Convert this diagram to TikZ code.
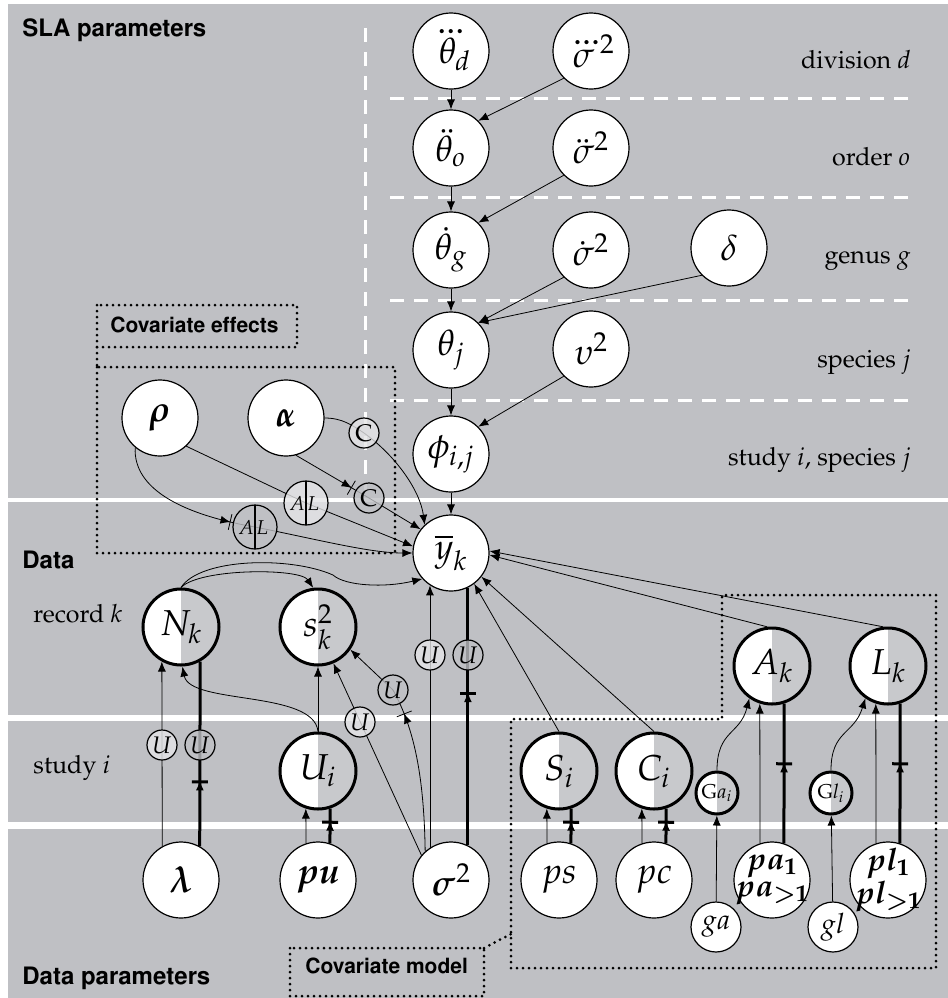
\documentclass[tikz,border=0pt]{standalone}
\usepackage[T1]{fontenc}
\usepackage{amsmath}
\usepackage{mathpazo}
\usepackage{helvet}
\usepackage{bm}
\usetikzlibrary{arrows.meta,decorations.markings}

\definecolor{bggray}{RGB}{191,192,196}
\definecolor{halfgray}{RGB}{200,201,204}
\definecolor{markgray}{RGB}{229,229,231}
\pgfdeclarelayer{back}
\pgfdeclarelayer{edges}
\pgfsetlayers{back,edges,main}
\newcommand{\bandfont}{\sffamily\bfseries\fontsize{12}{13}\selectfont}
\newcommand{\boxfont}{\sffamily\bfseries\fontsize{10.5}{12}\selectfont}
\newcommand{\rowfont}{\fontsize{12.5}{14}\selectfont}

\begin{document}
\begin{tikzpicture}[x=0.5pt,y=-0.5pt,line width=0.6pt,
main node/.style={circle,draw,fill=white,minimum size=38pt,inner sep=0pt,line width=0.6pt,font=\fontsize{18}{14}\selectfont},
half node/.style={main node,line width=1.5pt,path picture={\fill[halfgray] (path picture bounding box.north) rectangle (path picture bounding box.south east);}},
two line/.style={main node,align=center,inner sep=-9pt,font=\fontsize{15.5}{13.5}\selectfont},
small node/.style={main node,minimum size=25pt,font=\fontsize{14}{14}\selectfont},
mark node/.style={circle,draw,line width=0.6pt,minimum size=15pt,inner sep=0pt,fill opacity=0.8,text opacity=1,font=\fontsize{12}{12}\selectfont},
lt/.style={mark node,fill=markgray},
dk/.style={mark node,fill=bggray},
split/.style={minimum size=22pt,font=\fontsize{10}{10}\selectfont,path picture={\draw[line width=1pt] (path picture bounding box.north) -- (path picture bounding box.south);}},
row label/.style={anchor=base east,inner sep=0pt,font=\rowfont},
band label/.style={anchor=base west,inner sep=0pt,font=\bandfont},
arr/.style={-{Latex[length=5pt,width=4pt]}},
thk/.style={line width=1.5pt},
barmark/.style={postaction={decorate},decoration={markings,mark=at position #1 with {\arrow{Latex[length=5pt,width=4pt]}\arrow{Bar[width=8pt]}}}},
dotbox/.style={line width=1.5pt,dash pattern=on 0pt off 3pt,line cap=round},
wdash/.style={white,line width=1.5pt,dash pattern=on 7pt off 5pt}]
\useasboundingbox (0,0) rectangle (948,998);

\begin{pgfonlayer}{back}
\fill[bggray] (8,4) rectangle (948,998);
\draw[white,line width=2.3pt] (8,500) -- (948,500);
\draw[white,line width=3.4pt] (8,718) -- (948,718);
\draw[white,line width=3.8pt] (8,825.5) -- (948,825.5);
\draw[wdash] (365,28) -- (365,492);
\foreach \y in {98,197,300,400}
  \draw[wdash] (390,\y) -- (911,\y);
\draw[dotbox] (97,305) rectangle (297,347);
\draw[dotbox] (97,347) -- (97,367);
\draw[dotbox] (97,367) rectangle (395,553);
\draw[dotbox] (290,948) rectangle (484,996);
\draw[dotbox] (484,948) -- (511,934);
\draw[dotbox] (511,968) -- (511,719) -- (722,719) -- (722,595) -- (936,595) -- (936,968) -- cycle;
\end{pgfonlayer}

\begin{scope}
\node[band label] (sla) at (22,36) {SLA parameters};
\node[band label] (dat) at (22,568) {Data};
\node[band label] (dpar) at (22,984) {Data parameters};
\node[anchor=base west,inner sep=0pt,font=\boxfont] (cfx) at (110,332) {Covariate effects};
\node[anchor=base west,inner sep=0pt,font=\boxfont] (cmod) at (305,973) {Covariate model};
\node[row label] (ldiv) at (911,68) {division $d$};
\node[row label] (lord) at (911,165) {order $o$};
\node[row label] (lgen) at (911,263) {genus $g$};
\node[row label] (lspc) at (911,367) {species $j$};
\node[row label] (lstd) at (911,465) {study $i$, species $j$};
\node[anchor=base west,inner sep=0pt,font=\rowfont] (lrec) at (33,622) {record $k$};
\node[anchor=base west,inner sep=0pt,font=\rowfont] (lsti) at (33,773) {study $i$};
\end{scope}

\begin{scope}
\node[main node] (thd) at (451,51) {$\dddot{\theta}_{\!\!d}$};
\node[main node] (sgd) at (591,51) {$\dddot{\sigma}^2$};
\node[main node] (tho) at (451,148) {$\ddot{\theta}_o$};
\node[main node] (sgo) at (591,148) {$\ddot{\sigma}^2$};
\node[main node] (thg) at (451,250) {$\dot{\theta}_g$};
\node[main node] (sgg) at (591,250) {$\dot{\sigma}^2$};
\node[main node] (dlt) at (729,248) {$\delta$};
\node[main node] (thj) at (451,350) {$\theta_j$};
\node[main node] (ups) at (591,349) {$\upsilon^2$};
\node[main node] (phi) at (451,454) {$\phi_{i,j}$};
\node[main node] (yb) at (451,553) {$\overline{y}_k$};
\node[main node] (rho) at (160,418) {$\bm{\rho}$};
\node[main node] (alpha) at (286,418) {$\bm{\alpha}$};
\node[half node] (nk) at (181,627) {$N_k$};
\node[half node] (s2) at (318,627) {$s_k^2$};
\node[half node] (ui) at (318,771) {$U_i$};
\node[half node] (ak) at (772,666) {$A_k$};
\node[half node] (lk) at (888,666) {$L_k$};
\node[half node] (si) at (559,771) {$S_i$};
\node[half node] (ci) at (654,771) {$C_i$};
\node[half node,minimum size=21pt,font=\fontsize{10}{10}\selectfont] (gai) at (717,793) {$\mathrm{G}a_i$};
\node[half node,minimum size=21pt,font=\fontsize{10}{10}\selectfont] (gli) at (831,793) {$\mathrm{G}l_i$};
\node[main node] (lam) at (181,880) {$\bm{\lambda}$};
\node[main node] (pu) at (318,880) {$\bm{pu}$};
\node[main node] (sig) at (451,880) {$\bm{\sigma}^2$};
\node[main node] (ps) at (559,880) {$ps$};
\node[main node] (pc) at (654,880) {$pc$};
\node[two line] (pa) at (772,880) {$\bm{pa_1}$\\$\bm{pa_{>1}}$};
\node[two line] (pl) at (888,880) {$\bm{pl_1}$\\$\bm{pl_{>1}}$};
\node[small node] (ga) at (716,927) {$ga$};
\node[small node] (gl) at (833,927) {$gl$};
\end{scope}

\begin{scope}
\node[lt] (c1) at (364,433) {C};
\node[dk] (c2) at (369,498) {C};
\node[lt,split] (al1) at (306,503) {\makebox[7pt][r]{$A$}\hspace{1pt}\makebox[7pt][l]{$L$}};
\node[dk,split] (al2) at (255,527) {\makebox[7pt][r]{$A$}\hspace{1pt}\makebox[7pt][l]{$L$}};
\node[lt] (u1) at (162,745) {$U$};
\node[dk] (u2) at (200,745) {$U$};
\node[lt] (u3) at (360,722) {$U$};
\node[dk] (u4) at (393,690) {$U$};
\node[lt] (u5) at (430,655) {$U$};
\node[dk] (u6) at (468,655) {$U$};
\end{scope}

\begin{pgfonlayer}{edges}
% SLA hierarchy
\draw[arr] (thd) -- (tho);
\draw[arr] (sgd.225) -- (tho.45);
\draw[arr] (tho) -- (thg);
\draw[arr] (sgo.225) -- (thg.45);
\draw[arr] (thg) -- (thj);
\draw[arr] (sgg.225) -- (thj.45);
\draw[arr] (dlt.225) -- (thj.45);
\draw[arr] (thj) -- (phi);
\draw[arr] (ups.225) -- (phi.45);
\draw[arr] (phi) -- (yb);
% covariate effects
\draw[arr] (alpha.east) .. controls (342,418) and (352,425) .. (c1.center) .. controls (395,455) and (420,490) .. (yb.133);
\draw[barmark=-10pt] (alpha.-75) -- (c2.center);
\draw[arr] (c2.center) -- (yb.142);
\draw (rho.-47) -- (al1.center);
\draw[arr] (al1.center) -- (yb.170);
\draw[barmark=-12.5pt] (rho.230) .. controls (133,490) and (185,515) .. (al2.center);
\draw[arr] (al2.center) .. controls (320,540) and (370,553) .. (yb.180);
% data
\draw[arr] (nk.north) .. controls (200,568) and (300,568) .. (s2.97);
\draw[arr] (nk.north) .. controls (200,558) and (290,556) .. (333,575) .. controls (345,586) and (385,588) .. (yb.222);
\draw[arr] (lam.119) -- (nk.-119);
\draw[thk,barmark=0.357] (lam.61) -- (nk.-61);
\draw[arr] (ui) -- (s2);
\draw[arr] (ui.north) .. controls (314,690) and (190,705) .. (nk.-88);
\draw[arr] (pu.108) -- (ui.-108);
\draw[thk,barmark=0.65] (pu.72) -- (ui.-72);
\draw[arr] (sig.140) -- (s2.-67);
\draw[barmark=-13pt] (sig.132) .. controls (424,775) and (414,728) .. (u4.center);
\draw[arr] (u4.center) -- (s2.-35);
\draw[arr] (sig.123) -- (yb.-123);
\draw[thk,barmark=0.595] (sig.64) -- (yb.-64);
\draw[arr] (si.north) -- (yb.-53);
\draw[arr] (ci.north) -- (yb.-38);
\draw[arr] (ak.97) -- (yb.-3);
\draw[arr] (lk.97) -- (yb.3);
% covariate model
\draw[arr] (ps.108) -- (si.-108);
\draw[thk,barmark=0.65] (ps.72) -- (si.-72);
\draw[arr] (pc.108) -- (ci.-108);
\draw[thk,barmark=0.65] (pc.72) -- (ci.-72);
\draw[arr] (pa.108) -- (ak.-108);
\draw[thk,barmark=0.58] (pa.72) -- (ak.-72);
\draw[arr] (pl.108) -- (lk.-108);
\draw[thk,barmark=0.58] (pl.72) -- (lk.-72);
\draw[arr] (gai.north) .. controls (717,730) and (740,735) .. (ak.-125);
\draw[arr] (gli.north) .. controls (831,730) and (854,735) .. (lk.-125);
\draw[arr] (ga) -- (gai);
\draw[arr] (gl) -- (gli);
\end{pgfonlayer}
\end{tikzpicture}
\end{document}
